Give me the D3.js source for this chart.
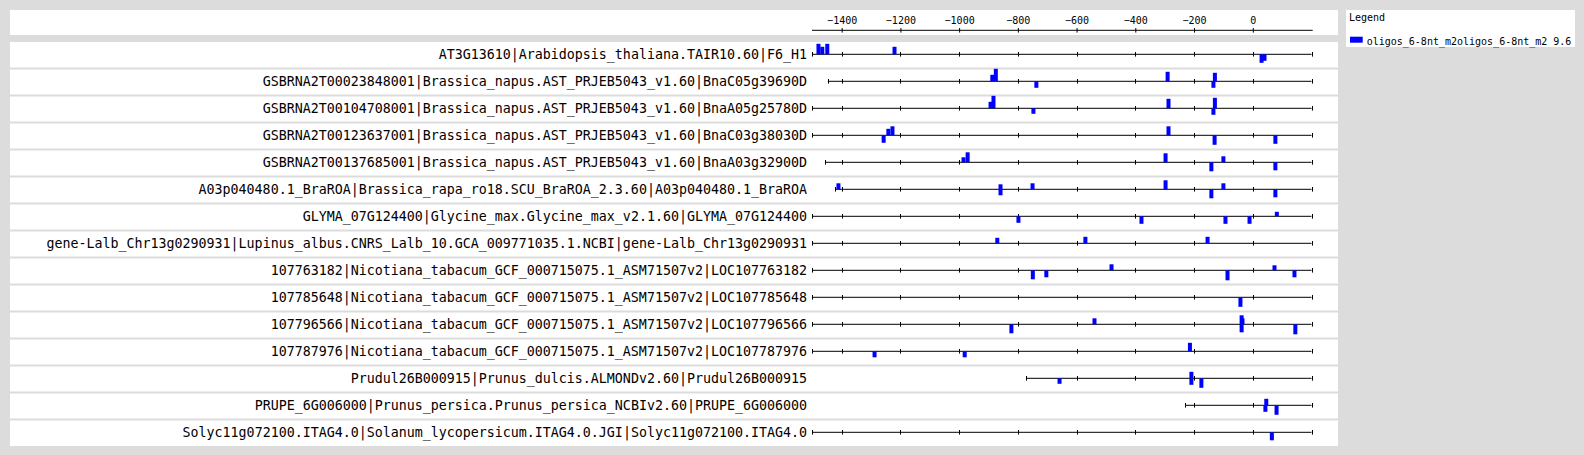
<!DOCTYPE html>
<html>
<head>
<meta charset="utf-8">
<script src="https://cdn.jsdelivr.net/npm/d3@7"></script>
<style>
  html, body { margin: 0; padding: 0; background: #dcdcdc; }
  svg { display: block; }
  text { font-family: "DejaVu Sans Mono", monospace; fill: #000; }
</style>
</head>
<body>
<svg id="chart" width="1584" height="455"></svg>
<script>
(function () {
  'use strict';

  /** Gene labels, one per track. */
  var genes = [
    'AT3G13610|Arabidopsis_thaliana.TAIR10.60|F6_H1',
    'GSBRNA2T00023848001|Brassica_napus.AST_PRJEB5043_v1.60|BnaC05g39690D',
    'GSBRNA2T00104708001|Brassica_napus.AST_PRJEB5043_v1.60|BnaA05g25780D',
    'GSBRNA2T00123637001|Brassica_napus.AST_PRJEB5043_v1.60|BnaC03g38030D',
    'GSBRNA2T00137685001|Brassica_napus.AST_PRJEB5043_v1.60|BnaA03g32900D',
    'A03p040480.1_BraROA|Brassica_rapa_ro18.SCU_BraROA_2.3.60|A03p040480.1_BraROA',
    'GLYMA_07G124400|Glycine_max.Glycine_max_v2.1.60|GLYMA_07G124400',
    'gene-Lalb_Chr13g0290931|Lupinus_albus.CNRS_Lalb_10.GCA_009771035.1.NCBI|gene-Lalb_Chr13g0290931',
    '107763182|Nicotiana_tabacum_GCF_000715075.1_ASM71507v2|LOC107763182',
    '107785648|Nicotiana_tabacum_GCF_000715075.1_ASM71507v2|LOC107785648',
    '107796566|Nicotiana_tabacum_GCF_000715075.1_ASM71507v2|LOC107796566',
    '107787976|Nicotiana_tabacum_GCF_000715075.1_ASM71507v2|LOC107787976',
    'Prudul26B000915|Prunus_dulcis.ALMONDv2.60|Prudul26B000915',
    'PRUPE_6G006000|Prunus_persica.Prunus_persica_NCBIv2.60|PRUPE_6G006000',
    'Solyc11g072100.ITAG4.0|Solanum_lycopersicum.ITAG4.0.JGI|Solyc11g072100.ITAG4.0'
  ];

  /** Upstream extent of each track, bp relative to TSS. */
  var trackStart = [-1500, -1447, -1500, -1500, -1456, -1422, -1500, -1500,
    -1500, -1500, -1500, -1500, -772, -230, -1500];
  var trackEnd = [200, 200, 200, 200, 200, 200, 200, 200,
    200, 200, 200, 200, 200, 200, 200];

  /** Axis tick labels. */
  var axisTicks = [-1400, -1200, -1000, -800, -600, -400, -200, 0];

  var legendTitle = 'Legend';
  var legendLabel = 'oligos_6-8nt_m2oligos_6-8nt_m2 9.6';

  /**
   * Oligo hits: [track, position (bp), strand (+1 / -1), score].
   */
  var hits = [
    [0, -1479, 1, 10.5], [0, -1466, 1, 7.5], [0, -1449, 1, 10.5], [0, -1220, 1, 7.5],
    [0, 30, -1, 8.5], [0, 40, -1, 6.5],

    [1, -887, 1, 6.5], [1, -875, 1, 12.5], [1, -737, -1, 6.5], [1, -290, 1, 9.5],
    [1, -129, 1, 8.5], [1, -134, -1, 6.5],

    [2, -893, 1, 6.5], [2, -883, 1, 12.5], [2, -747, -1, 5.5], [2, -287, 1, 9.5],
    [2, -129, 1, 10.5], [2, -134, -1, 6.5],

    [3, -1257, -1, 7.5], [3, -1241, 1, 6.5], [3, -1227, 1, 9], [3, -287, 1, 9],
    [3, -130, -1, 9.5], [3, 77, -1, 8.5],

    [4, -985, 1, 5], [4, -971, 1, 10], [4, -297, 1, 9], [4, -141, -1, 9],
    [4, -100, 1, 6], [4, 77, -1, 8],

    [5, -1411, 1, 6], [5, -859, 1, 5], [5, -859, -1, 6], [5, -750, 1, 6],
    [5, -297, 1, 9], [5, -141, -1, 9], [5, -100, 1, 6], [5, 77, -1, 8],

    [6, -798, -1, 6.5], [6, -379, -1, 7.5], [6, -93, -1, 7.5], [6, -11, -1, 7.5],
    [6, 82, 1, 4.5],

    [7, -870, 1, 5.5], [7, -570, 1, 6.5], [7, -154, 1, 6.5],

    [8, -749, -1, 9], [8, -703, -1, 7], [8, -481, 1, 6], [8, -86, -1, 10],
    [8, 74, 1, 5], [8, 142, -1, 7],

    [9, -42, -1, 9.5],

    [10, -822, -1, 9], [10, -539, 1, 6], [10, -38, 1, 9], [10, -35, 1, 6],
    [10, -38, -1, 8], [10, 145, -1, 10],

    [11, -1288, -1, 6], [11, -981, -1, 6], [11, -214, 1, 8.5],

    [12, -658, -1, 5.5], [12, -209, 1, 6.5], [12, -209, -1, 6.5], [12, -175, -1, 9.5],

    [13, 46, 1, 6.5], [13, 43, -1, 6.5], [13, 81, -1, 9.5],

    [14, 65, -1, 8]
  ];

  var svg = d3.select('#chart'),
      panelLeft = 10,
      panelRight = 1338,
      rowTop = 42,
      rowStep = 27,
      firstLine = 54.3,
      markWidth = 4,
      tickHalf = 2.3,
      x, h, axis, axisG, rows;

  x = d3.scaleLinear().domain([-1500, 200]).range([812.3, 1311.5]);
  h = d3.scaleLinear().domain([0, 10]).range([0, 10]);

  // panels
  svg.append('rect')
    .attr('x', panelLeft).attr('y', 10)
    .attr('width', panelRight - panelLeft).attr('height', 25)
    .attr('fill', '#fff');

  svg.append('rect')
    .attr('x', panelLeft).attr('y', rowTop)
    .attr('width', panelRight - panelLeft).attr('height', genes.length * rowStep - 1)
    .attr('fill', '#fff');

  svg.selectAll('line.sep')
    .data(d3.range(1, genes.length))
    .enter()
    .append('line')
      .attr('class', 'sep')
      .attr('x1', panelLeft).attr('x2', panelRight)
      .attr('y1', function (i) { return rowTop + i * rowStep - 0.5; })
      .attr('y2', function (i) { return rowTop + i * rowStep - 0.5; })
      .attr('stroke', '#dcdcdc')
      .attr('stroke-width', 2);

  // top axis
  axis = d3.axisTop(x)
    .tickValues(axisTicks)
    .tickFormat(d3.format('d'))
    .tickSizeOuter(0)
    .tickSize(tickHalf)
    .tickPadding(4);

  axisG = svg.append('g')
    .attr('transform', 'translate(0,30.3)')
    .call(axis);

  axisG.attr('font-family', null).attr('font-size', null);
  axisG.select('.domain').remove();
  axisG.append('line')
    .attr('x1', 812).attr('x2', 1312.7)
    .attr('stroke', '#000');
  axisG.selectAll('.tick line')
    .attr('y1', tickHalf).attr('y2', -tickHalf);
  axisG.selectAll('.tick text')
    .style('font-size', '10px')
    .attr('fill', '#000');

  // tracks
  rows = svg.selectAll('g.track')
    .data(genes)
    .enter()
    .append('g')
      .attr('class', 'track')
      .attr('transform', function (d, i) {
        return 'translate(0,' + (firstLine + i * rowStep) + ')';
      });

  rows.append('text')
    .attr('x', 807)
    .attr('y', 4.8)
    .attr('text-anchor', 'end')
    .style('font-size', '13.3px')
    .text(function (d) { return d; });

  rows.append('line')
    .attr('x1', function (d, i) { return x(trackStart[i]); })
    .attr('x2', function (d, i) { return x(trackEnd[i]); })
    .attr('stroke', '#000');

  rows.each(function (d, i) {
    var ticks = axisTicks.filter(function (t) {
      return t > trackStart[i] && t < trackEnd[i];
    });
    ticks = [trackStart[i]].concat(ticks, [trackEnd[i]]);

    d3.select(this).selectAll('line.tick')
      .data(ticks)
      .enter()
      .append('line')
        .attr('class', 'tick')
        .attr('x1', function (t) { return Math.round(x(t)) + 0.5; })
        .attr('x2', function (t) { return Math.round(x(t)) + 0.5; })
        .attr('y1', -tickHalf).attr('y2', tickHalf)
        .attr('stroke', '#000');
  });

  // oligo hits
  svg.selectAll('rect.hit')
    .data(hits)
    .enter()
    .append('rect')
      .attr('class', 'hit')
      .attr('x', function (d) { return x(d[1]) - markWidth / 2; })
      .attr('y', function (d) {
        var y0 = firstLine + d[0] * rowStep;
        return d[2] > 0 ? y0 - h(d[3]) : y0;
      })
      .attr('width', markWidth)
      .attr('height', function (d) { return h(d[3]); })
      .attr('fill', '#0000ff');

  // legend
  svg.append('rect')
    .attr('x', 1346).attr('y', 10)
    .attr('width', 229).attr('height', 37)
    .attr('fill', '#fff');

  svg.append('text')
    .attr('x', 1349).attr('y', 21.3)
    .style('font-size', '10px')
    .text(legendTitle);

  svg.append('rect')
    .attr('x', 1350).attr('y', 36.7)
    .attr('width', 12.7).attr('height', 6)
    .attr('fill', '#0000ff');

  svg.append('text')
    .attr('x', 1366.7).attr('y', 45)
    .style('font-size', '10px')
    .text(legendLabel);
}());
</script>
</body>
</html>
